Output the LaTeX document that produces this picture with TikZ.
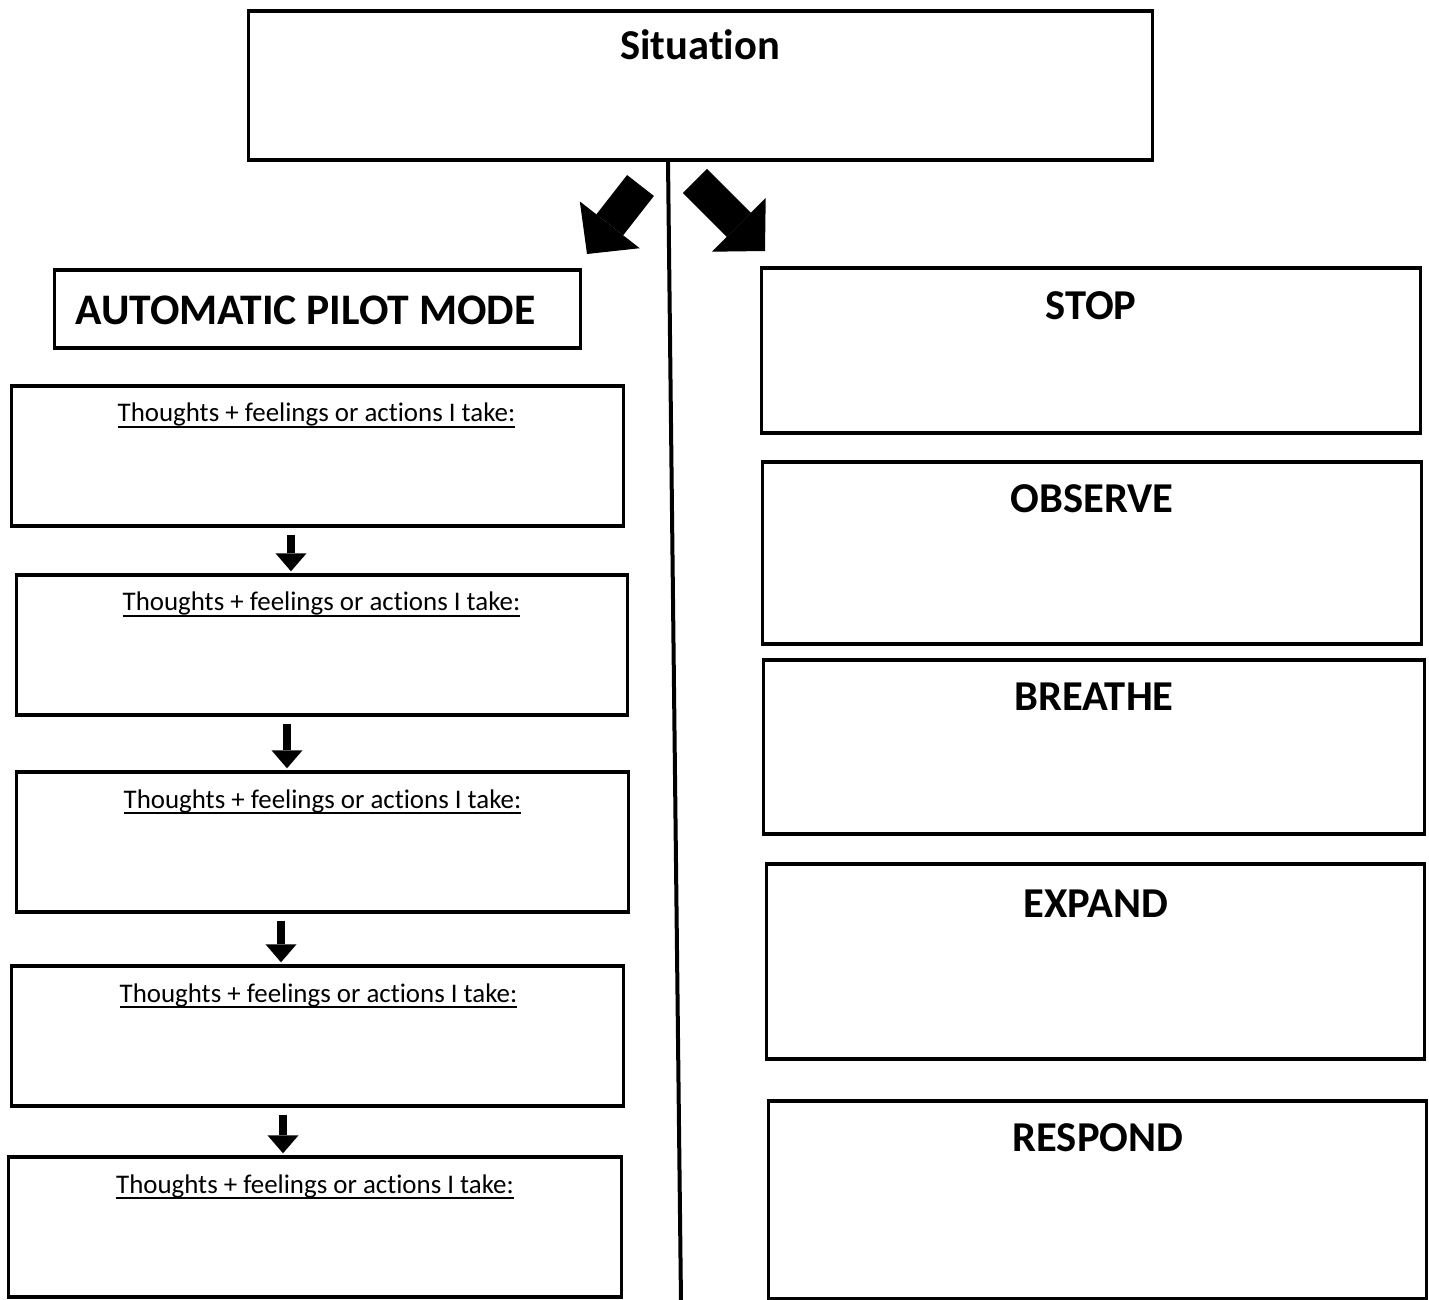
\documentclass[tikz,border=0pt]{standalone}
\usepackage{fontspec}
\setmainfont{Carlito}[Ligatures=NoCommon]
\usetikzlibrary{arrows.meta, positioning}

% underline sitting close to the baseline
\newcommand{\ulined}[1]{\setbox0\hbox{#1}\rlap{\rule[-1.75pt]{\wd0}{0.55pt}}\box0}

\begin{document}
\begin{tikzpicture}[
    x=0.01cm, y=-0.01cm,
    frame/.style={rectangle, draw=black, line width=0.033cm, inner sep=0pt},
    head/.style={font=\fontsize{12.1pt}{14pt}\selectfont\bfseries, anchor=base, inner sep=0pt},
    bighead/.style={font=\fontsize{12.4pt}{14pt}\selectfont\bfseries, anchor=base, inner sep=0pt},
    note/.style={font=\fontsize{7.65pt}{9pt}\selectfont, anchor=base, inner sep=0pt},
    bigarrow/.style={-{Triangle[length=0.37cm, width=0.76cm, line width=0pt]}, line width=0.34cm},
    downarrow/.style={-{Triangle[length=0.18cm, width=0.31cm, line width=0pt]}, line width=0.08cm, shorten <=0.07cm, shorten >=0.02cm}
]
\useasboundingbox (0,0) rectangle (1429,1300);

% ---- Situation ----
\node[frame, minimum width=9.03cm, minimum height=1.49cm] (sit) at (700.5,85.5) {};
\node[head] (sitlbl) at (700,60) {Situation};

% ---- Divider ----
\coordinate (divtop) at (668,160);
\coordinate (divbot) at (681,1302);
\draw[line width=0.04cm] (divtop) -- (divbot);

% ---- Big arrows ----
\coordinate (lfrom) at (640.5,185.5);
\coordinate (lto) at (587,254);
\coordinate (rfrom) at (695,181);
\coordinate (rto) at (765,251);
\draw[bigarrow] (lfrom) -- (lto);
\draw[bigarrow] (rfrom) -- (rto);

% ---- Left column: automatic pilot ----
\node[frame, minimum width=5.25cm, minimum height=0.78cm] (apm) at (317.5,309) {};
\node[bighead] (apmlbl) at (305.5,325) {AUTOMATIC PILOT MODE};

\node[frame, minimum width=6.11cm, minimum height=1.40cm] (t1) at (317.5,456) {};
\node[frame, minimum width=6.10cm, minimum height=1.40cm] (t2) at (322,645) {};
\node[frame, minimum width=6.11cm, minimum height=1.40cm] (t3) at (322.5,842) {};
\node[frame, minimum width=6.11cm, minimum height=1.40cm] (t4) at (317.5,1036) {};
\node[frame, minimum width=6.12cm, minimum height=1.40cm] (t5) at (315,1227) {};

\node[note] (t1lbl) at (316.5,422) {\ulined{Thoughts + feelings or actions I take:}};
\node[note] (t2lbl) at (321.5,611) {\ulined{Thoughts + feelings or actions I take:}};
\node[note] (t3lbl) at (322.5,808) {\ulined{Thoughts + feelings or actions I take:}};
\node[note] (t4lbl) at (318.5,1002) {\ulined{Thoughts + feelings or actions I take:}};
\node[note] (t5lbl) at (315,1193) {\ulined{Thoughts + feelings or actions I take:}};

\foreach \a/\b/\x in {t1/t2/291, t2/t3/287, t3/t4/281, t4/t5/283}
    \draw[downarrow] (\a.south -| \x,0) -- (\b.north -| \x,0);

% ---- Right column: STOP steps ----
\node[frame, minimum width=6.58cm, minimum height=1.65cm] (stop) at (1091,350.5) {};
\node[frame, minimum width=6.58cm, minimum height=1.82cm] (observe) at (1092,553) {};
\node[frame, minimum width=6.60cm, minimum height=1.74cm] (breathe) at (1094,747) {};
\node[frame, minimum width=6.57cm, minimum height=1.95cm] (expand) at (1095.5,961.5) {};
\node[frame, minimum width=6.57cm, minimum height=1.98cm] (respond) at (1097.5,1200) {};

\node[head] (stoplbl) at (1091,320) {STOP};
\node[head] (observelbl) at (1092,513) {OBSERVE};
\node[head] (breathelbl) at (1094,711) {BREATHE};
\node[head] (expandlbl) at (1096,918) {EXPAND};
\node[head] (respondlbl) at (1098,1152) {RESPOND};

\end{tikzpicture}
\end{document}
